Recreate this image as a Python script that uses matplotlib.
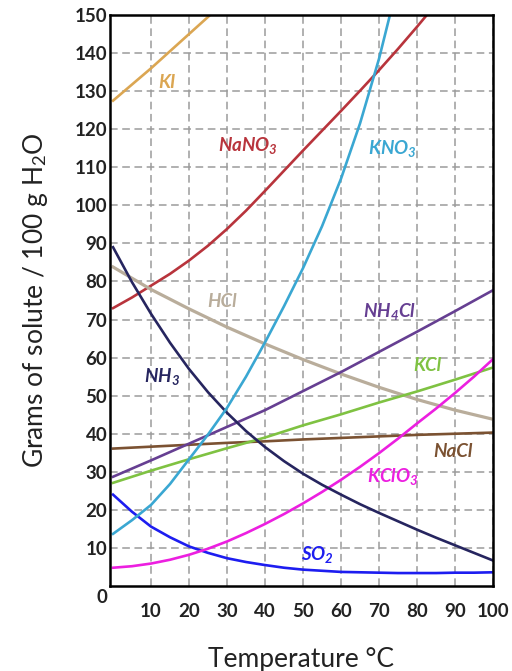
import numpy as np
import matplotlib
matplotlib.use('Agg')
import matplotlib.pyplot as plt

plot_file = 'out.png'

# temperatures (deg C)
temps10 = [0, 10, 20, 30, 40, 50, 60, 70, 80, 90, 100]
temps5 = [0, 5, 10, 15, 20, 25, 30, 35, 40, 45, 50, 55, 60, 65, 70, 75,
          80, 85, 90, 95, 100]
temps_ki = [0, 10, 20, 30]
temps_kno3 = [0, 5, 10, 15, 20, 25, 30, 35, 40, 45, 50, 55, 60, 65, 70, 75]
temps_nano3 = [0, 5, 10, 15, 20, 25, 30, 35, 40, 45, 50, 55, 60, 65, 70, 75,
               80, 85]

# solubility, g solute / 100 g water
ki = [127.5, 136, 145, 154]
nano3 = [73, 75.8, 78.9, 82.0, 85.5, 89.4, 93.8, 98.6, 103.8, 109.1, 114.4,
         119.6, 124.8, 130.1, 135.5, 141.1, 146.9, 152.9]
kno3 = [13.7, 17.3, 21.3, 26.8, 33.3, 39.8, 46.8, 55.0, 64.0, 73.5, 83.5,
        94.5, 107, 121.5, 138.5, 158.5]
hcl = [83.8, 77.9, 72.8, 68.0, 63.6, 59.5, 55.7, 52.2, 49.0, 46.2, 43.8]
nh4cl = [28.7, 33, 37.4, 41.8, 46.2, 51.2, 56.2, 61.5, 66.8, 72.2, 77.7]
kcl = [27.1, 30.3, 33.3, 36.2, 39, 42.2, 45.1, 48.2, 51.1, 54.2, 57.4]
nacl = [36.1, 36.6, 37.1, 37.6, 38.0, 38.5, 38.9, 39.3, 39.7, 40.0, 40.3]
nh3 = [89, 79.8, 71.5, 63.9, 57, 50.9, 45.5, 40.7, 36.5, 32.8, 29.5, 26.6,
       24, 21.5, 19.2, 17, 14.8, 12.7, 10.7, 8.7, 6.7]
kclo3 = [4.8, 5.2, 5.9, 6.9, 8.2, 9.8, 11.7, 13.9, 16.3, 18.9, 21.7, 24.7,
         27.9, 31.3, 34.9, 38.7, 42.7, 46.6, 50.7, 55.0, 59.6]
so2 = [24, 19.5, 15.6, 12.8, 10.4, 8.7, 7.3, 6.3, 5.5, 4.8, 4.3, 4.0, 3.7,
       3.6, 3.5, 3.4, 3.4, 3.4, 3.5, 3.5, 3.6]

xticks = [10, 20, 30, 40, 50, 60, 70, 80, 90, 100]
yticks = [10, 20, 30, 40, 50, 60, 70, 80, 90, 100, 110, 120, 130, 140, 150]

plt.rcParams['font.family'] = ['Lato', 'DejaVu Sans']
plt.rcParams['mathtext.fontset'] = 'custom'
plt.rcParams['mathtext.rm'] = 'Lato'
plt.rcParams['mathtext.it'] = 'Lato:italic'
plt.rcParams['mathtext.bf'] = 'Lato:italic:bold'

fig = plt.figure(figsize=(5.12, 6.71), dpi=100)
ax = fig.add_axes([110 / 512, 1 - 586 / 671, 383 / 512, 571 / 671])

lw = 1.9
ax.plot(temps_ki, ki, color='#dba652', lw=lw)
ax.plot(temps_nano3, nano3, color='#b8343c', lw=lw)
ax.plot(temps10, hcl, color='#b9ad9b', lw=2.3)
ax.plot(temps10, nacl, color='#7b5232', lw=lw)
ax.plot(temps10, kcl, color='#7fc242', lw=lw)
ax.plot(temps10, nh4cl, color='#663f92', lw=lw)
ax.plot(temps5, so2, color='#1d1df0', lw=lw)
ax.plot(temps5, kclo3, color='#ec1fe0', lw=lw)
ax.plot(temps5, nh3, color='#26255f', lw=lw)
ax.plot(temps_kno3, kno3, color='#3aa7d2', lw=lw)

# curve labels
lab = dict(fontsize=13.5, fontweight='bold', style='italic', ha='center',
           va='center')
ax.text(14.1, 132.3, 'KI', color='#dba652', **lab)
ax.text(35.5, 115.6, r'NaNO$_\mathbf{3}$', color='#b8343c', **lab)
ax.text(73.6, 115.0, r'KNO$_\mathbf{3}$', color='#3aa7d2', **lab)
ax.text(28.7, 74.7, 'HCl', color='#b9ad9b', **lab)
ax.text(12.9, 55.1, r'NH$_\mathbf{3}$', color='#26255f', **lab)
ax.text(72.8, 72.0, r'NH$_\mathbf{4}$Cl', color='#663f92', **lab)
ax.text(82.8, 57.8, 'KCl', color='#7fc242', **lab)
ax.text(89.4, 35.3, 'NaCl', color='#7b5232', **lab)
ax.text(73.6, 28.8, r'KClO$_\mathbf{3}$', color='#ec1fe0', **lab)
ax.text(53.9, 8.2, r'SO$_\mathbf{2}$', color='#1d1df0', **lab)

ax.set_xlim(-0.8, 100)
ax.set_ylim(0, 150)
ax.set_xticks(xticks)
ax.set_yticks(yticks)
ax.tick_params(length=0, labelsize=13.5, labelcolor='#222222')
ax.tick_params(axis='x', pad=12)
ax.tick_params(axis='y', pad=2)
for t in ax.get_xticklabels() + ax.get_yticklabels():
    t.set_fontweight('bold')
ax.text(-0.006, -0.02, '0', transform=ax.transAxes, ha='right', va='center',
        fontsize=13.5, fontweight='bold', color='#222222')

ax.grid(True, color='#9b9b9b', lw=1.1, linestyle=(0, (5, 3)))
ax.set_axisbelow(True)
for s in ax.spines.values():
    s.set_linewidth(1.8)
    s.set_color('black')

ax.set_xlabel(u'Temperature \u00b0C', fontsize=19, color='#222222',
              labelpad=20)
ax.set_ylabel(r'Grams of solute / 100 g H$_\mathrm{2}$O', fontsize=19,
              color='#222222', labelpad=18)

fig.savefig(plot_file, dpi=100)
plt.close()
